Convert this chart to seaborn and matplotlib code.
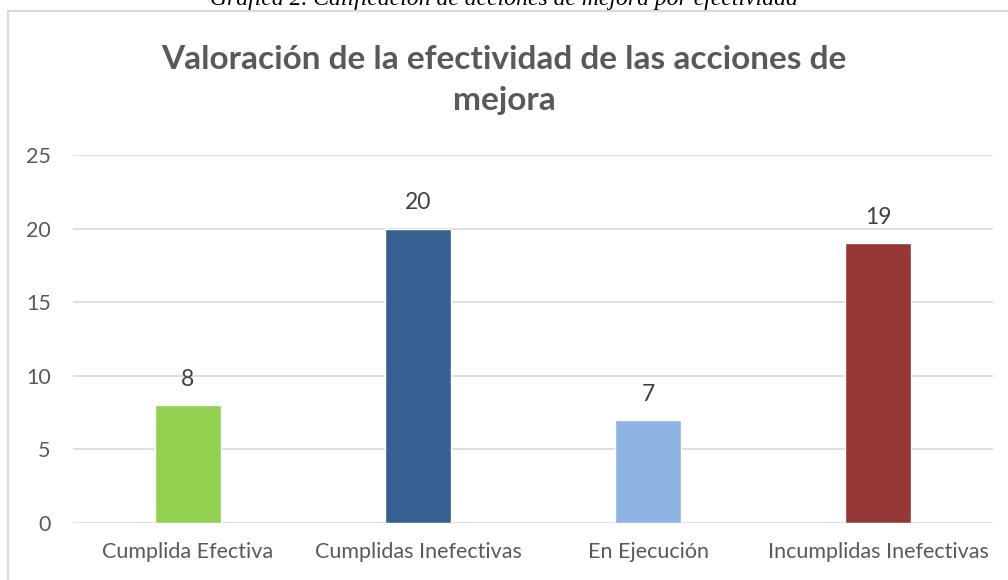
import matplotlib
matplotlib.use("Agg")
import matplotlib.pyplot as plt
import seaborn as sns
import pandas as pd
from matplotlib.lines import Line2D

# data
categorias = ["Cumplida Efectiva", "Cumplidas Inefectivas", "En Ejecución", "Incumplidas Inefectivas"]
valores = [8, 20, 7, 19]
colores = ["#92D050", "#366092", "#8DB4E2", "#953735"]
y_ticks = [0, 5, 10, 15, 20, 25]

titulo = "Valoración de la efectividad de las acciones de\nmejora"
leyenda_sup = "Gráfica 2. Calificación de acciones de mejora por efectividad"

df = pd.DataFrame({"categoria": categorias, "valor": valores})

sns.set_theme(style="white")
plt.rcParams["font.family"] = ["Lato", "DejaVu Sans"]

fig = plt.figure(figsize=(10.08, 5.8), dpi=100)
ax = fig.add_axes([73 / 1008, 1 - 523 / 580, 920 / 1008, 368 / 580])

sns.barplot(data=df, x="categoria", y="valor", hue="categoria", palette=colores,
            width=0.29, legend=False, ax=ax, saturation=1)

ax.set_ylim(0, 25)
ax.set_xlim(-0.5, 3.5)
ax.set_yticks(y_ticks)
ax.yaxis.grid(True, color="#D9D9D9", linewidth=1.2)
ax.set_axisbelow(True)
for s in ax.spines.values():
    s.set_visible(False)
ax.set_xlabel("")
ax.set_ylabel("")
ax.tick_params(axis="both", length=0, labelsize=15.5, colors="#595959")
ax.tick_params(axis="y", pad=16)
ax.tick_params(axis="x", pad=14)

for c in ax.containers:
    ax.bar_label(c, fontsize=16.5, color="#404040", padding=11)

fig.text(0.5, 0.862, titulo, ha="center", va="center", fontsize=24,
         fontweight="bold", color="#595959", linespacing=1.5)

# caption sits above the chart and is cut by the top edge, as in the reference
fig.text(0.5, 1.0, leyenda_sup, ha="center", va="center", fontsize=17,
         style="italic", family="Liberation Serif", color="black")
fig.add_artist(Line2D([8 / 1008, 1], [1 - 10.5 / 580, 1 - 10.5 / 580],
                      transform=fig.transFigure, color="#D9D9D9", linewidth=1.5))
fig.add_artist(Line2D([8 / 1008, 8 / 1008], [0, 1 - 10.5 / 580],
                      transform=fig.transFigure, color="#D9D9D9", linewidth=1.5))

fig.savefig("out.png", dpi=100)
